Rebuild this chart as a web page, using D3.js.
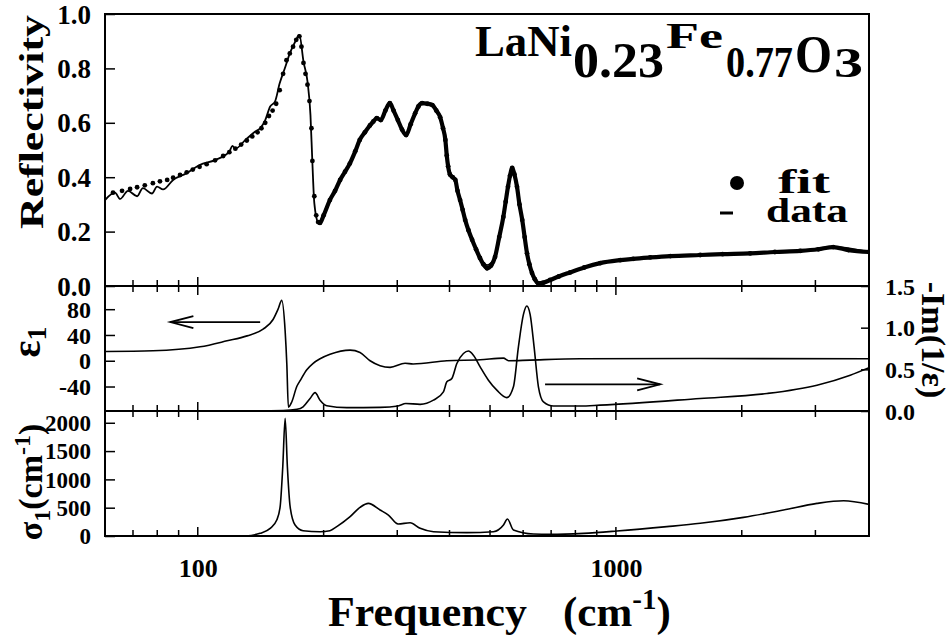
<!DOCTYPE html>
<html><head><meta charset="utf-8">
<script src="https://cdn.jsdelivr.net/npm/d3@7"></script>
<style>
body{margin:0;background:#fff;}
svg{display:block;}
</style></head><body>
<svg id="chart" width="951" height="643"></svg>
<script>
// ---------- data ----------
const reflDataFreq = [60,63.4,65.2,68.1,71.6,73.9,77.7,79.9,82.6,87.3,94.1,101,110,119,121,123,130,137,141,145,
  149,153,157,162,166,171,175,179,183,186,188,190,194,196,207,219,231,244,258,268,
  274,288,301,315,331,344,364,380,391,397,401,413,424,436,453,473,492,514,538,552,
  565,580,597,613,630,652,696,777,917,1024,1208,1591,2095,2760,3309,4030];
const reflDataValues = [0.316,0.343,0.32,0.35,0.33,0.36,0.34,0.365,0.355,0.39,0.415,0.445,0.463,0.494,0.515,0.505,0.537,0.567,0.58,0.61,
  0.66,0.678,0.745,0.806,0.855,0.898,0.923,0.825,0.751,0.629,0.452,0.305,0.235,0.232,0.316,0.39,0.45,0.537,0.59,0.617,
  0.61,0.672,0.61,0.555,0.635,0.672,0.665,0.62,0.537,0.44,0.415,0.39,0.316,0.243,0.17,0.103,0.077,0.107,0.254,0.365,
  0.434,0.365,0.243,0.12,0.048,0.01,0.022,0.05,0.084,0.095,0.105,0.114,0.12,0.129,0.144,0.125];

const reflFitFreq = [62.7,65.9,68.9,71.6,74.7,78.1,81.2,84.5,87.3,90.7,94.1,97.3,101,105,110,115,119,123,127,131,
  135,139,142,145,148,151,154,157,160,163,166,169,172,175,177,179,181,183,185,187,
  188,190,192,194,196,200,207,213,219,225,231,238,244,251,258,263,268,274,281,288,
  294,301,308,315,323,331,337,344,354,364,372,380,386,391,394,397,401,407,413,418,
  424,430,436,444,453,463,473,482,492,503,514,526,538,545,552,558,565,572,580,588,
  597,605,613,621,630,640,652,670,696,730,777,840,917,1024,1100,1208,1350,1591,1800,2095,
  2400,2760,3050,3309,3600,4030];
const reflFitValues = [0.343,0.35,0.357,0.363,0.37,0.378,0.385,0.39,0.398,0.408,0.418,0.428,0.438,0.448,0.462,0.478,0.492,0.505,0.52,0.535,
  0.55,0.565,0.58,0.6,0.625,0.645,0.67,0.72,0.78,0.83,0.855,0.88,0.905,0.918,0.88,0.82,0.78,0.74,0.68,0.58,
  0.46,0.33,0.26,0.235,0.232,0.26,0.316,0.35,0.39,0.42,0.45,0.495,0.537,0.565,0.59,0.605,0.617,0.61,0.645,0.672,
  0.645,0.61,0.575,0.555,0.595,0.635,0.66,0.672,0.67,0.665,0.645,0.62,0.58,0.537,0.48,0.44,0.41,0.40,0.39,0.35,
  0.316,0.28,0.243,0.205,0.17,0.135,0.103,0.08,0.065,0.075,0.107,0.18,0.254,0.31,0.365,0.405,0.434,0.41,0.365,0.30,
  0.243,0.18,0.12,0.08,0.048,0.025,0.01,0.012,0.022,0.035,0.05,0.068,0.084,0.095,0.1,0.105,0.11,0.114,0.117,0.12,
  0.125,0.129,0.135,0.143,0.132,0.125];

const eps1Freq = [60.3,78.1,101.3,117.5,131.2,143.3,151.4,155.6,158.8,161.8,163.3,164.7,167.8,172.5,175.7,182.3,188.8,196.1,207.2,231.4,
  244.4,258.3,272.9,288.4,313.2,327.4,394.2,473.5,538.4,553.4,623.5,821.4,1591,4030];
const eps1Values = [14.4,15.4,21.6,30.9,38.6,49,64,80,93.7,46,-5,-72,-64,-40,-31,-14,-4,3,10,16.5,
  12.8,0,-7.7,-10.3,-4,-5,0,1.5,4,0,1,3,3.5,3];

const lossFreq = [129.8,160,172.8,178.6,185.6,190.8,196.1,203.5,227.2,272.9,301.4,314.4,340.3,366.1,386.8,394.2,405.2,416.5,431.9,443.9,
  456.3,473.5,495.6,519.1,548.5,568.8,584.6,601,612.2,623.5,637.3,652.7,671.1,709,821.4,917,1591,2297,3026,3635,4030];
const lossValues = [0,0.005,0.02,0.05,0.15,0.22,0.13,0.063,0.04,0.044,0.06,0.09,0.08,0.13,0.23,0.35,0.39,0.57,0.69,0.72,
  0.67,0.53,0.37,0.25,0.16,0.29,0.77,1.16,1.26,1.16,0.77,0.29,0.11,0.06,0.06,0.07,0.15,0.21,0.31,0.43,0.52];

const sigmaFreq = [129.8,140.9,149,154.5,157.4,159.7,161.8,163.8,166.3,170.9,178.6,196.1,207,215,231.4,244.4,255.9,272.9,285.7,301.4,
  322,340.3,366.1,440,509.4,538.4,550.3,568.8,634.9,696,836.6,1005.5,1324,1591,2019,2517,3026,3504,4030];
const sigmaValues = [0,47,135,282,518,1224,2077,1224,518,194,94,76,94,165,341,506,576,459,370,212,
  235,135,76,59,76,194,300,106,35,29,47,88,165,224,329,459,576,623,559];

const xMajorTicks = [100, 1000];
const xMinorTicks = [60,70,80,90,200,300,400,500,600,700,800,900,2000,3000];
const reflTicks = [0, 0.2, 0.4, 0.6, 0.8, 1.0];
const eps1Ticks = [-40, 0, 40, 80];
const lossTicks = [0, 0.5, 1.0, 1.5];
const sigmaTicks = [0, 500, 1000, 1500, 2000];

// ---------- layout ----------
const FONT = "Liberation Serif";
const svg = d3.select("#chart").attr("font-family", FONT).attr("font-weight", "bold");
const L = 105, R = 869;
const P1 = [14, 286], P2 = [286, 411], P3 = [411, 536];

const x = d3.scaleLog().domain([60, 4030]).range([L, R]);
const yR = d3.scaleLinear().domain([0, 1]).range([P1[1], P1[0]]);
const yE = d3.scaleLinear().domain([-78, 116]).range([P2[1], P2[0]]);
const yLo = d3.scaleLinear().domain([0, 1.5]).range([P2[1], P2[0]]);
const yS = d3.scaleLinear().domain([0, 2208]).range([P3[1], P3[0]]);

const defs = svg.append("defs");
[["c1",P1],["c2",P2],["c3",P3]].forEach(([id,p]) => {
  defs.append("clipPath").attr("id", id).append("rect")
    .attr("x", L).attr("y", p[0] - 1).attr("width", R - L).attr("height", p[1] - p[0] + 2);
});

function lineGen(ys) {
  return d3.line().x(d => x(d[0])).y(d => ys(d[1])).curve(d3.curveMonotoneX);
}

// ---------- frame ----------
const frame = svg.append("g").attr("stroke", "#000").attr("stroke-width", 2).attr("fill", "none");
frame.append("rect").attr("x", L).attr("y", P1[0]).attr("width", R - L).attr("height", P3[1] - P1[0]);
frame.append("line").attr("x1", L).attr("x2", R).attr("y1", P1[1]).attr("y2", P1[1]);
frame.append("line").attr("x1", L).attr("x2", R).attr("y1", P2[1]).attr("y2", P2[1]);

// x ticks: crossing at inner boundaries, inward at bottom
function xTicks(yPos, up, down) {
  const g = svg.append("g").attr("stroke", "#000").attr("stroke-width", 1.5);
  g.selectAll("line.mn").data(xMinorTicks).join("line")
    .attr("x1", d => x(d)).attr("x2", d => x(d))
    .attr("y1", yPos - up).attr("y2", yPos + down);
  g.selectAll("line.mj").data(xMajorTicks).join("line")
    .attr("x1", d => x(d)).attr("x2", d => x(d))
    .attr("y1", yPos - up * 1.5).attr("y2", yPos + down * 1.5);
}
xTicks(P1[1], 6, 6);
xTicks(P2[1], 6, 6);
xTicks(P3[1], 6, 0);

function styleAxis(g, fs, dyv) {
  g.attr("font-family", FONT).attr("font-weight", "bold");
  g.select(".domain").remove();
  g.selectAll("line").attr("stroke", "#000").attr("stroke-width", 1.5);
  g.selectAll("text").attr("font-size", fs).attr("fill", "#000");
  if (dyv) g.selectAll("text").attr("dy", dyv);
}

// x tick labels
svg.append("g").attr("transform", `translate(0,${P3[1]})`)
  .call(d3.axisBottom(x).tickValues(xMajorTicks).tickSize(0).tickPadding(0).tickFormat(d3.format("d")))
  .call(g => styleAxis(g, 26, null))
  .call(g => g.selectAll("text").attr("dy", null).attr("y", 41));

// y axes (inward ticks)
function yAxisLeft(scale, ticks, fmt, fs) {
  svg.append("g").attr("transform", `translate(${L},0)`)
    .call(d3.axisLeft(scale).tickValues(ticks).tickSize(-10).tickPadding(14).tickFormat(fmt))
    .call(g => styleAxis(g, fs, "0.34em"));
}
yAxisLeft(yR, reflTicks, d3.format(".1f"), 27);
yAxisLeft(yE, eps1Ticks, d => String(d), 24);
yAxisLeft(yS, sigmaTicks, d => String(d), 23);

svg.append("g").attr("transform", `translate(${R},0)`)
  .call(d3.axisRight(yLo).tickValues(lossTicks).tickSize(-8).tickPadding(16).tickFormat(d3.format(".1f")))
  .call(g => styleAxis(g, 24, "0.34em"));

// ---------- reflectivity panel ----------
const reflData = d3.zip(reflDataFreq, reflDataValues);
const reflFit = d3.zip(reflFitFreq, reflFitValues);
const g1 = svg.append("g").attr("clip-path", "url(#c1)");
g1.append("path").datum(reflData).attr("d", lineGen(yR))
  .attr("fill", "none").attr("stroke", "#000").attr("stroke-width", 1.8);
g1.append("path").datum(reflFit.filter(d => d[0] >= 194)).attr("d", lineGen(yR))
  .attr("fill", "none").attr("stroke", "#000").attr("stroke-width", 4.2).attr("stroke-linejoin", "round");
g1.selectAll("circle").data(reflFit).join("circle")
  .attr("cx", d => x(d[0])).attr("cy", d => yR(d[1])).attr("r", 2.4).attr("fill", "#000");

// ---------- eps1 / loss panel ----------
const g2 = svg.append("g").attr("clip-path", "url(#c2)");
g2.append("path").datum(d3.zip(eps1Freq, eps1Values)).attr("d", lineGen(yE))
  .attr("fill", "none").attr("stroke", "#000").attr("stroke-width", 1.6);
g2.append("path").datum(d3.zip(lossFreq, lossValues)).attr("d", lineGen(yLo))
  .attr("fill", "none").attr("stroke", "#000").attr("stroke-width", 1.6);

// arrows (in data coordinates)
const arrowL = {from: [141, 60], to: [86, 60]};
const arrowR = {from: [677, 0.32], to: [1276, 0.32]};
function arrow(a, ys) {
  const x1 = x(a.from[0]), x2 = x(a.to[0]), yy = ys(a.from[1]);
  const s = Math.sign(x1 - x2);
  const g = svg.append("g").attr("stroke", "#000").attr("stroke-width", 1.8).attr("fill", "none");
  g.append("line").attr("x1", x1).attr("x2", x2).attr("y1", yy).attr("y2", yy);
  g.append("path").attr("d", `M${x2 + s * 23},${yy - 6}L${x2},${yy}L${x2 + s * 23},${yy + 6}`);
}
arrow(arrowL, yE);
arrow(arrowR, yLo);

// ---------- sigma panel ----------
const g3 = svg.append("g").attr("clip-path", "url(#c3)");
g3.append("path").datum(d3.zip(sigmaFreq, sigmaValues)).attr("d", lineGen(yS))
  .attr("fill", "none").attr("stroke", "#000").attr("stroke-width", 1.6);

// ---------- labels ----------
svg.append("text").attr("transform", "translate(43,122) rotate(-90)")
  .attr("text-anchor", "middle").attr("font-size", 34)
  .attr("textLength", 214).attr("lengthAdjust", "spacingAndGlyphs").text("Reflectivity");

const e1 = svg.append("text").attr("transform", "translate(40,342) rotate(-90)")
  .attr("text-anchor", "middle").attr("font-size", 40);
e1.append("tspan").text("ε");
e1.append("tspan").attr("font-size", 28).attr("dy", 6).text("1");

const s1 = svg.append("text").attr("transform", "translate(42,482) rotate(-90)")
  .attr("text-anchor", "middle").attr("font-size", 34);
s1.append("tspan").text("σ");
s1.append("tspan").attr("font-size", 24).attr("dy", 8).text("1");
s1.append("tspan").attr("dy", -8).text("(cm");
s1.append("tspan").attr("font-size", 24).attr("dy", -12).text("-1");
s1.append("tspan").attr("dy", 12).text(")");

svg.append("text").attr("transform", "translate(922,340) rotate(90)")
  .attr("text-anchor", "middle").attr("font-size", 34).text("-Im(1/ε)");

const xt = svg.append("text").attr("y", 626).attr("font-size", 43);
xt.append("tspan").attr("x", 328).attr("textLength", 199).attr("lengthAdjust", "spacingAndGlyphs").text("Frequency");
xt.append("tspan").attr("x", 563).text("(cm");
xt.append("tspan").attr("font-size", 29).attr("dy", -17).text("-1");
xt.append("tspan").attr("dy", 17).text(")");

// title: one text element, pieces as tspans stretched to the scanned widths
const title = [
  {t: "LaNi", x: 475, y: 56, fs: 45, w: 97},
  {t: "0.23", x: 573, y: 77, fs: 50, w: 91},
  {t: "Fe", x: 666, y: 48, fs: 36, w: 57},
  {t: "0.77", x: 726, y: 77, fs: 44, w: 67},
  {t: "O", x: 795, y: 72, fs: 52, w: 37},
  {t: "3", x: 834, y: 77, fs: 42, w: 29}
];
svg.append("text").selectAll("tspan").data(title).join("tspan")
  .attr("x", d => d.x).attr("y", d => d.y).attr("font-size", d => d.fs)
  .attr("textLength", d => d.w).attr("lengthAdjust", "spacingAndGlyphs").text(d => d.t);

// legend
svg.append("circle").attr("cx", 737).attr("cy", 183).attr("r", 7).attr("fill", "#000");
svg.append("line").attr("x1", 720).attr("x2", 733).attr("y1", 213).attr("y2", 213)
  .attr("stroke", "#000").attr("stroke-width", 3);
svg.append("text").attr("x", 778).attr("y", 193).attr("font-size", 34)
  .attr("textLength", 52).attr("lengthAdjust", "spacingAndGlyphs").text("fit");
svg.append("text").attr("x", 766).attr("y", 222).attr("font-size", 34)
  .attr("textLength", 82).attr("lengthAdjust", "spacingAndGlyphs").text("data");
</script>
</body></html>
